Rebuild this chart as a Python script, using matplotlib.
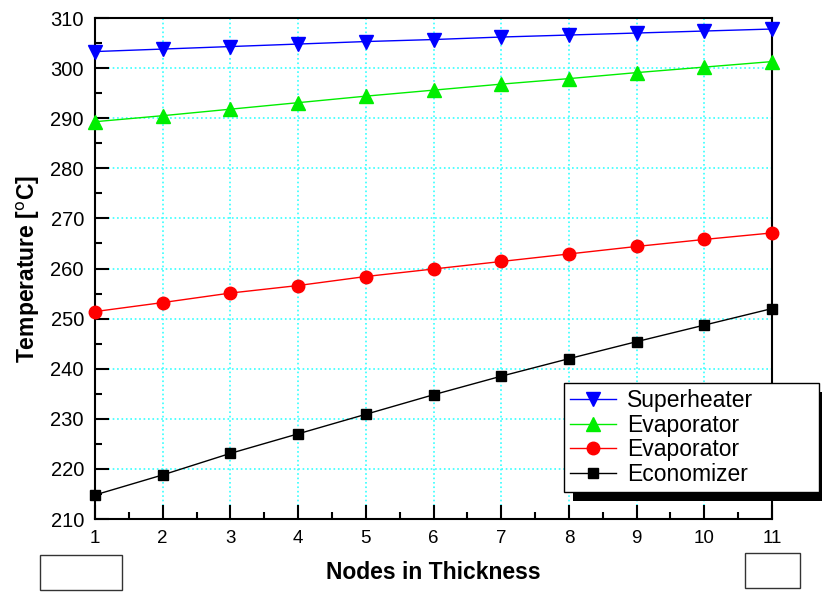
import matplotlib
matplotlib.use("Agg")
import matplotlib.pyplot as plt
from matplotlib.patches import Rectangle
from matplotlib.transforms import IdentityTransform

# -------------------------------------------------
# DATA
# -------------------------------------------------

nodes = list(range(1, 12))

superheater = [303.3, 303.8, 304.3, 304.8, 305.3, 305.7, 306.2, 306.6, 307.0, 307.4, 307.8]
evaporator_1 = [289.3, 290.5, 291.8, 293.1, 294.4, 295.6, 296.8, 297.9, 299.1, 300.2, 301.3]
evaporator_2 = [251.4, 253.2, 255.1, 256.6, 258.4, 259.9, 261.4, 262.9, 264.4, 265.8, 267.1]
economizer = [214.8, 218.8, 223.1, 227.0, 230.9, 234.8, 238.5, 242.0, 245.4, 248.7, 252.0]

series_labels = ["Superheater", "Evaporator", "Evaporator", "Economizer"]

# -------------------------------------------------
# PLOT
# -------------------------------------------------

plt.rcParams["font.family"] = ["Liberation Sans", "DejaVu Sans"]

fig = plt.figure(figsize=(8.22, 5.94), dpi=100)
ax = fig.add_axes([95 / 822, 1 - 519 / 594, 677 / 822, 501 / 594])

ax.plot(nodes, superheater, color="blue", lw=1, marker="v", ms=10,
        clip_on=False, label=series_labels[0], zorder=3)
ax.plot(nodes, evaporator_1, color="#00ee00", lw=1, marker="^", ms=10,
        clip_on=False, label=series_labels[1], zorder=3)
ax.plot(nodes, evaporator_2, color="red", lw=1, marker="o", ms=9,
        clip_on=False, label=series_labels[2], zorder=3)
ax.plot(nodes, economizer, color="black", lw=1, marker="s", ms=7,
        clip_on=False, label=series_labels[3], zorder=3)

ax.set_xlim(1, 11)
ax.set_ylim(210, 310)
ax.set_xticks(nodes)
ax.set_xticks([n + 0.5 for n in nodes[:-1]], minor=True)
ax.set_yticks(range(210, 311, 10))
ax.set_yticks(range(215, 310, 10), minor=True)

ax.tick_params(which="both", direction="in", width=1.5)
ax.tick_params(which="major", length=10, pad=8)
ax.tick_params(which="minor", length=5)
ax.tick_params(axis="y", labelsize=14.5)
ax.tick_params(axis="x", labelsize=13.5)

for s in ax.spines.values():
    s.set_linewidth(1.5)

ax.grid(True, which="major", color="#33ffff", linestyle=":", linewidth=1.2)

ax.set_xlabel("Nodes in Thickness", fontsize=16.5, fontweight="bold", labelpad=10)
ax.set_ylabel("Temperature [$^\\mathrm{o}$C]", fontsize=16.5, fontweight="bold", labelpad=6)

# legend box stretched to the width seen in the original
leg = ax.legend(
    loc="lower left",
    bbox_to_anchor=((564 - 95) / 677, (519 - 492) / 501, 255 / 677, 0.2),
    mode="expand",
    fontsize=16.5,
    fancybox=False,
    edgecolor="black",
    framealpha=1,
    handlelength=2.0,
    labelspacing=0.08,
    borderpad=0.25,
    handletextpad=0.5,
    borderaxespad=0,
)
leg.get_frame().set_linewidth(1)
leg.set_zorder(6)

# black drop shadow behind the legend
fig.canvas.draw()
bb = leg.get_window_extent()
ax.add_patch(Rectangle((bb.x0 + 9, bb.y0 - 9), bb.width, bb.height,
                       transform=IdentityTransform(), facecolor="black",
                       edgecolor="none", zorder=5.5, clip_on=False))

# empty boxes under the axis
fig.patches.append(Rectangle((40 / 822, 1 - 590 / 594), 82 / 822, 35 / 594,
                             transform=fig.transFigure, fill=False,
                             edgecolor="#333333", lw=1))
fig.patches.append(Rectangle((745 / 822, 1 - 588 / 594), 55 / 822, 35 / 594,
                             transform=fig.transFigure, fill=False,
                             edgecolor="#333333", lw=1))

plt.savefig("out.png", dpi=100)
